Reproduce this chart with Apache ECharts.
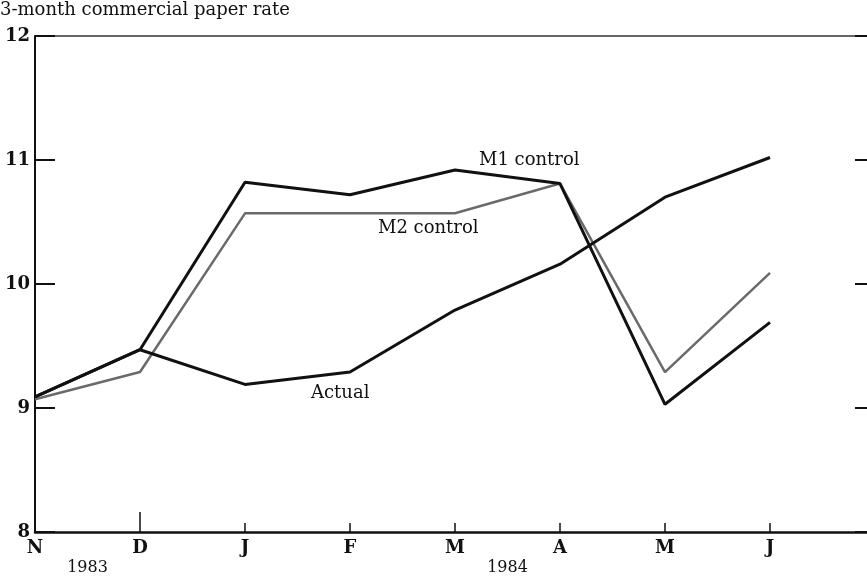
<!DOCTYPE html>
<html>
<head>
<meta charset="utf-8">
<script src="https://cdn.jsdelivr.net/npm/echarts@6/dist/echarts.min.js"></script>
<style>
  html, body { margin: 0; padding: 0; background: #fff; }
  #main { width: 867px; height: 579px; }
</style>
</head>
<body>
<div id="main"></div>
<script>
// months, Nov 1983 - Jun 1984 (last slot is empty room at the right)
var months = ['N', 'D', 'J', 'F', 'M', 'A', 'M', 'J', ''];
var yearLabels = ['1983', '', '', '', '1984', '', '', ''];
var actual = [9.09, 9.47, 9.19, 9.29, 9.79, 10.16, 10.70, 11.02];
var m1Control = [9.09, 9.47, 10.82, 10.72, 10.92, 10.81, 9.03, 9.69];
var m2Control = [9.07, 9.29, 10.57, 10.57, 10.57, 10.81, 9.29, 10.09];

var serif = 'DejaVu Serif';

var chart = echarts.init(document.getElementById('main'));

// label with no symbol, placed next to one point of a line
function tag(idx, val, text, pos) {
  return {
    coord: [idx, val],
    symbol: 'circle',
    symbolSize: 0,
    label: {
      show: true, formatter: text, position: pos,
      align: 'left', verticalAlign: 'middle',
      color: '#111', fontFamily: serif, fontSize: 18
    }
  };
}

chart.setOption({
  animation: false,
  title: {
    text: '3-month commercial paper rate',
    left: 0, top: 1, padding: 0,
    textStyle: { fontFamily: serif, fontSize: 18, fontWeight: 'normal', color: '#111' }
  },
  // plot box runs past the right edge of the page, as in the scan
  grid: { left: 35, top: 36, width: 840, height: 496, outerBoundsMode: 'none' },
  xAxis: [
    { // main month axis
      type: 'category', data: months, boundaryGap: false, position: 'bottom',
      axisLine: { lineStyle: { color: '#111', width: 2.5 } },
      axisTick: { inside: true, length: 9, lineStyle: { color: '#111', width: 1.5 } },
      axisLabel: { margin: 7, color: '#111', fontFamily: serif, fontSize: 18, fontWeight: 'bold' },
      splitLine: { show: false }
    },
    { // longer tick at the year boundary
      type: 'category', data: months, boundaryGap: false, position: 'bottom',
      axisLine: { show: false },
      axisTick: { inside: true, length: 20, interval: function (i) { return i === 1; },
        lineStyle: { color: '#111', width: 1.5 } },
      axisLabel: { show: false }, splitLine: { show: false }
    },
    { // year labels, centred between months
      type: 'category', data: yearLabels, boundaryGap: true, position: 'bottom',
      axisLine: { show: false }, axisTick: { show: false },
      axisLabel: { interval: 0, margin: 28, color: '#111', fontFamily: serif, fontSize: 16 },
      splitLine: { show: false }
    },
    { // top frame
      type: 'category', data: months, boundaryGap: false, position: 'top',
      axisLine: { lineStyle: { color: '#333', width: 1.5 } },
      axisTick: { show: false }, axisLabel: { show: false }, splitLine: { show: false }
    }
  ],
  yAxis: [
    {
      type: 'value', min: 8, max: 12, interval: 1, position: 'left',
      axisLine: { show: true, lineStyle: { color: '#111', width: 2 } },
      axisTick: { show: true, inside: true, length: 20, lineStyle: { color: '#111', width: 2 } },
      axisLabel: { margin: 5, color: '#111', fontFamily: serif, fontSize: 18, fontWeight: 'bold' },
      splitLine: { show: false }
    },
    {
      type: 'value', min: 8, max: 12, interval: 1, position: 'right',
      axisLine: { show: true, lineStyle: { color: '#111', width: 2 } },
      axisTick: { show: true, inside: true, length: 20, lineStyle: { color: '#111', width: 2 } },
      axisLabel: { show: false }, splitLine: { show: false }
    }
  ],
  series: [
    {
      name: 'M2 control', type: 'line', data: m2Control,
      showSymbol: false, lineStyle: { color: '#6a6a6a', width: 2.5 },
      markPoint: { data: [tag(3, 10.57, 'M2 control', [28, 15])] }
    },
    {
      name: 'M1 control', type: 'line', data: m1Control,
      showSymbol: false, lineStyle: { color: '#111', width: 3 },
      markPoint: { data: [tag(4, 10.92, 'M1 control', [24, -10])] }
    },
    {
      name: 'Actual', type: 'line', data: actual,
      showSymbol: false, lineStyle: { color: '#111', width: 3 },
      markPoint: { data: [tag(3, 9.29, 'Actual', [-39, 21])] }
    }
  ]
});
</script>
</body>
</html>
